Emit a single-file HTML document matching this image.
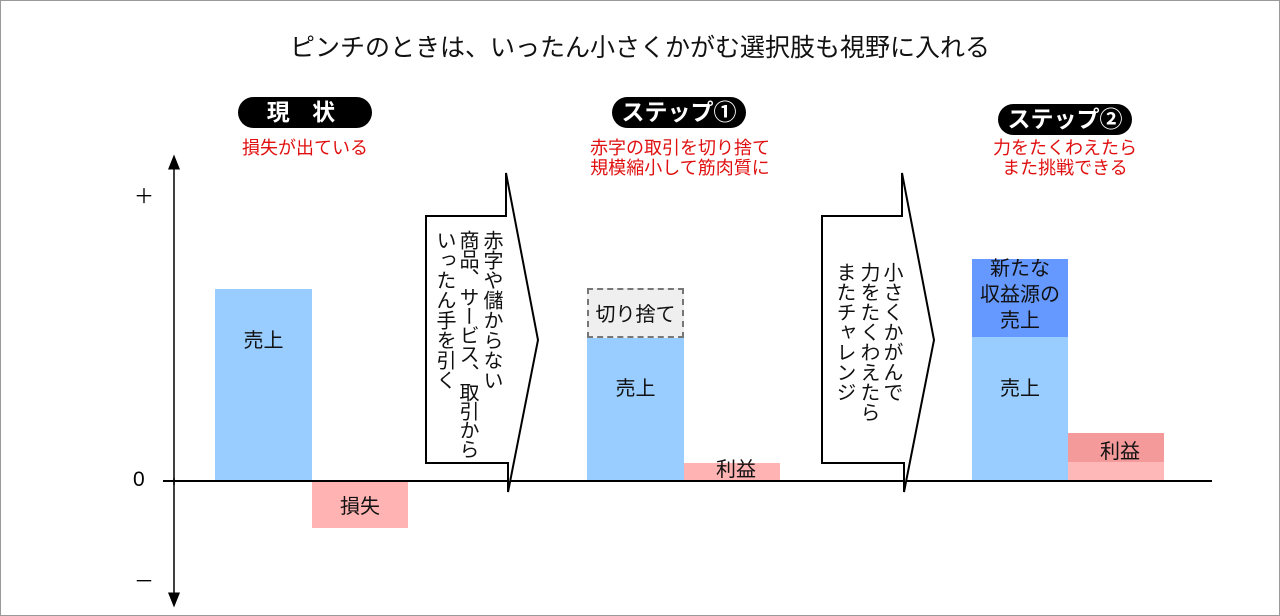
<!DOCTYPE html>
<html><head><meta charset="utf-8"><style>
body{margin:0;width:1280px;height:616px;background:#fff;overflow:hidden;position:relative;font-family:"Liberation Sans","Noto Sans CJK JP",sans-serif;}
.a{position:absolute;}
.t{position:absolute;white-space:nowrap;}
.pill{position:absolute;height:31px;background:#000;color:#fff;border-radius:16px;font-size:23px;font-weight:bold;text-align:center;line-height:31px;}
.red{position:absolute;color:#e01010;font-size:18px;text-align:center;line-height:20px;}
.lbl{position:absolute;font-size:20px;text-align:center;color:#111;}
.v{position:absolute;writing-mode:vertical-rl;font-size:20px;line-height:23px;color:#111;}
</style></head><body>
<div class="a" style="left:0;top:0;width:1278px;height:614px;border:1px solid #999;"></div>
<div class="t" style="left:0;width:1280px;top:28px;text-align:center;font-size:25px;color:#111;">ピンチのときは、いったん小さくかがむ選択肢も視野に入れる</div>

<div class="pill" style="left:238px;top:97px;width:134px;letter-spacing:8px;">現 状</div>
<div class="pill" style="left:612px;top:97px;width:134px;">ステップ①</div>
<div class="pill" style="left:998px;top:104px;width:134px;">ステップ②</div>
<div class="red" style="left:200px;width:210px;top:138px;">損失が出ている</div>
<div class="red" style="left:570px;width:220px;top:138px;">赤字の取引を切り捨て<br>規模縮小して筋肉質に</div>
<div class="red" style="left:960px;width:210px;top:138px;">力をたくわえたら<br>また挑戦できる</div>

<div class="a" style="left:215px;top:289px;width:97px;height:192px;background:#99ccff;"></div>
<div class="lbl" style="left:215px;width:97px;top:324px;">売上</div>
<div class="a" style="left:312px;top:481px;width:96px;height:47px;background:#ffb3b3;"></div>
<div class="lbl" style="left:312px;width:96px;top:490px;">損失</div>

<div class="a" style="left:587px;top:288px;width:93px;height:46px;background:#efefef;border:2px dashed #777;"></div>
<div class="lbl" style="left:587px;width:97px;top:298px;">切り捨て</div>
<div class="a" style="left:587px;top:338px;width:97px;height:143px;background:#99ccff;"></div>
<div class="lbl" style="left:587px;width:97px;top:372px;">売上</div>
<div class="a" style="left:684px;top:463px;width:96px;height:18px;background:#ffb3b3;"></div>
<div class="lbl" style="left:684px;width:104px;top:453px;">利益</div>

<div class="a" style="left:972px;top:259px;width:96px;height:78px;background:#6699ff;"></div>
<div class="lbl" style="left:962px;width:116px;top:256px;line-height:26px;">新たな<br>収益源の<br>売上</div>
<div class="a" style="left:972px;top:337px;width:96px;height:144px;background:#99ccff;"></div>
<div class="lbl" style="left:972px;width:96px;top:372px;">売上</div>
<div class="a" style="left:1068px;top:433px;width:96px;height:29px;background:#f59a9a;"></div>
<div class="a" style="left:1068px;top:462px;width:96px;height:19px;background:#ffb8b8;"></div>
<div class="lbl" style="left:1068px;width:104px;top:435px;">利益</div>

<svg class="a" style="left:0;top:0" width="1280" height="616">
<defs><marker id="m" markerWidth="10" markerHeight="10" refX="5" refY="5" orient="auto"><path d="M0,1 L10,5 L0,9 Z" fill="#000"/></marker></defs>
<line x1="163" y1="481" x2="1212" y2="481" stroke="#000" stroke-width="2"/>
<line x1="174" y1="485" x2="174" y2="162" stroke="#000" stroke-width="1.5" marker-end="url(#m)"/>
<line x1="174" y1="478" x2="174" y2="600" stroke="#000" stroke-width="1.5" marker-end="url(#m)"/>
<path d="M426,216 H506 V173 L538,340 L508,492 V463 H426 Z" fill="#fff" stroke="#000" stroke-width="2"/>
<path d="M822,216 H902 V173 L934,340 L904,492 V463 H822 Z" fill="#fff" stroke="#000" stroke-width="2"/>
</svg>
<div class="t" style="left:134px;top:180px;font-size:20px;">＋</div>
<div class="t" style="left:133px;top:468px;font-size:21px;">0</div>
<div class="t" style="left:134px;top:565px;font-size:20px;">－</div>

<div class="v" style="left:432px;top:230px;height:240px;">いったん手を引く</div>
<div class="v" style="left:455px;top:230px;height:240px;letter-spacing:-1px;">商品、サービス、取引から</div>
<div class="v" style="left:479px;top:230px;height:240px;">赤字や儲からない</div>
<div class="v" style="left:832px;top:262px;height:200px;">またチャレンジ</div>
<div class="v" style="left:856px;top:262px;height:200px;">力をたくわえたら</div>
<div class="v" style="left:879px;top:262px;height:200px;">小さくかがんで</div>
</body></html>
